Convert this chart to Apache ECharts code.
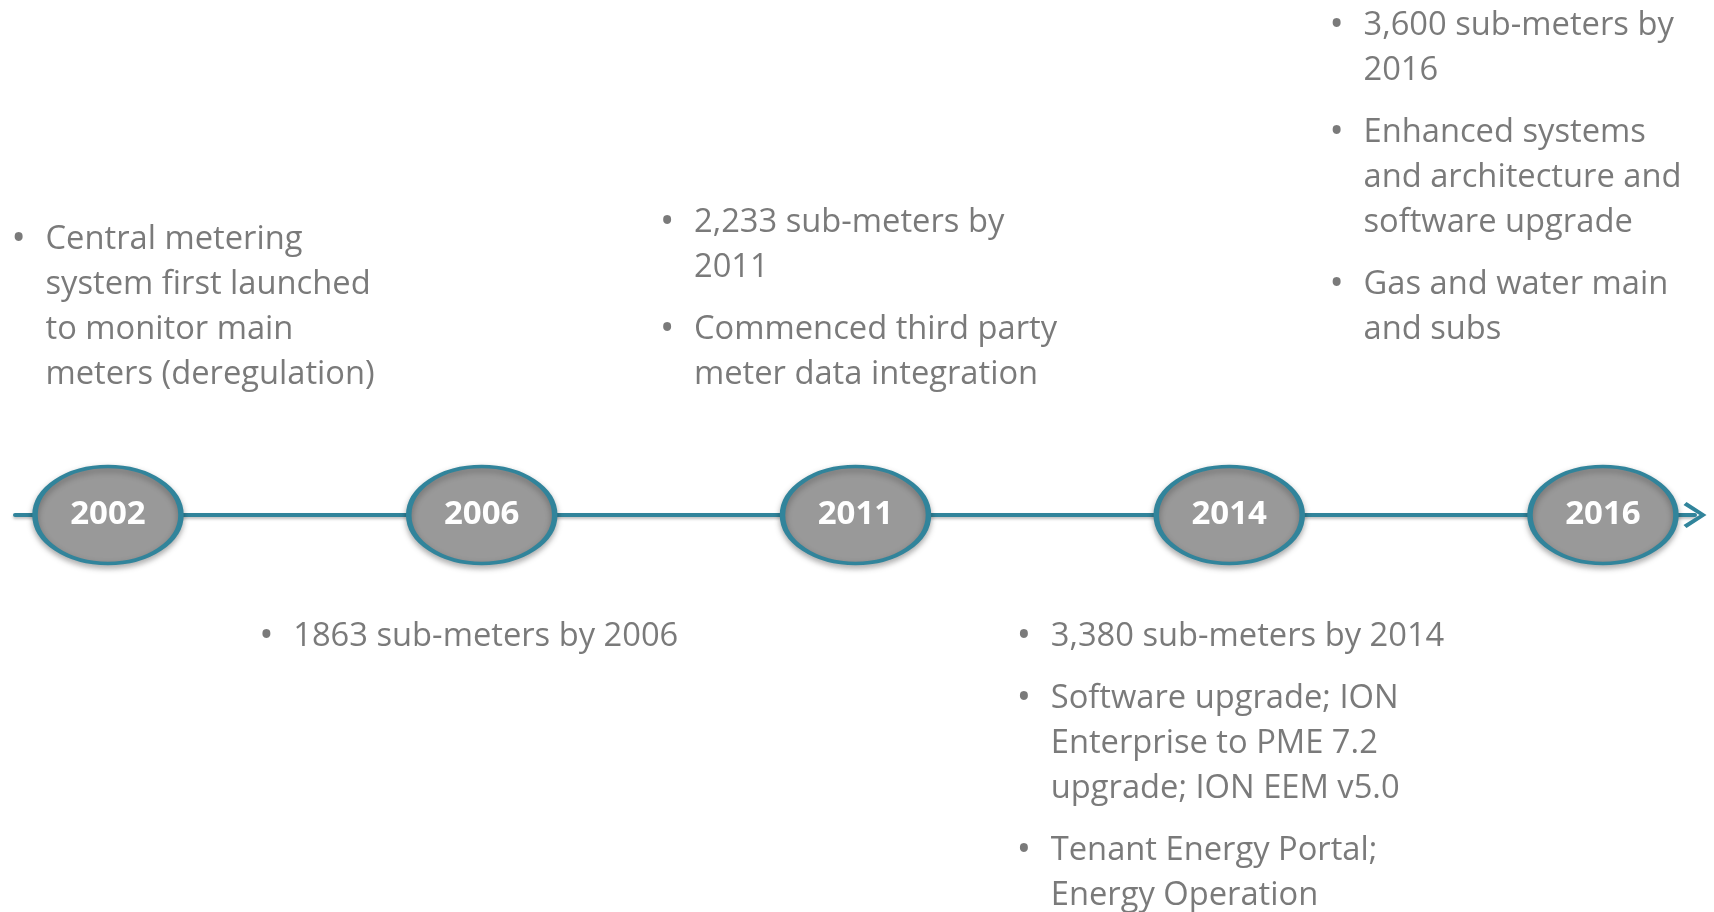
<!DOCTYPE html>
<html style="height: 100%">
<head>
  <meta charset="UTF-8">
  <title>Metering timeline</title>
  <script src="https://cdn.jsdelivr.net/npm/echarts@6/dist/echarts.min.js"></script>
  <style>
    html, body {
      margin: 0;
      height: 100%;
      width: 100%;
      background: #fff;
    }
    #chart {
      width: 1714px;
      height: 912px;
    }
  </style>
</head>
<body>
  <div id="chart"></div>
  <script>
    // timeline data
    const years = ['2002', '2006', '2011', '2014', '2016'];

    // bullet notes per year: each paragraph is a list of pre-wrapped lines
    const notes2002 = [['Central metering', 'system first launched', 'to monitor main', 'meters (deregulation)']];
    const notes2006 = [['1863 sub-meters by 2006']];
    const notes2011 = [['2,233 sub-meters by', '2011'], ['Commenced third party', 'meter data integration']];
    const notes2014 = [['3,380 sub-meters by 2014'], ['Software upgrade; ION', 'Enterprise to PME 7.2', 'upgrade; ION EEM v5.0'], ['Tenant Energy Portal;', 'Energy Operation']];
    const notes2016 = [['3,600 sub-meters by', '2016'], ['Enhanced systems', 'and architecture and', 'software upgrade'], ['Gas and water main', 'and subs']];
    const notes = [notes2002, notes2006, notes2011, notes2014, notes2016];

    // layout: where each note block sits relative to its year marker (px)
    const noteOffsets = [[-96, -297], [-222, 100], [-195, -314], [-212, 100], [-273, -511]];

    const teal = '#31849B';
    const grey = '#595959';
    const font = '"Open Sans", sans-serif';

    function noteText(paras) {
      return paras.map(lines =>
        lines.map((l, j) => (j === 0 ? '{b|•}' : '{i| }') + '{t|' + l + '}').join('\n')
      ).join('\n{gap| }\n');
    }

    const chart = echarts.init(document.getElementById('chart'));
    chart.setOption({
      animation: false,
      grid: { left: 15, right: 19, top: 118, bottom: 0 },
      xAxis: {
        type: 'value',
        min: -0.2488,
        max: 4.2462,
        z: 0,
        axisLine: {
          show: true,
          onZero: true,
          symbol: ['none', 'path://M13,0 L26,20 L23,23 L13,7 L3,23 L0,20 Z'],
          symbolSize: [26, 24],
          lineStyle: {
            color: teal,
            width: 4,
            shadowBlur: 3,
            shadowOffsetY: 2,
            shadowColor: 'rgba(0,0,0,0.25)'
          }
        },
        axisTick: { show: false },
        axisLabel: { show: false },
        splitLine: { show: false }
      },
      yAxis: { type: 'value', min: -1, max: 1, show: false },
      series: [
        {
          name: 'years',
          type: 'scatter',
          symbol: 'circle',
          symbolSize: [146, 97],
          silent: true,
          z: 5,
          itemStyle: {
            color: '#999999',
            opacity: 1,
            borderColor: teal,
            borderWidth: 4.5,
            shadowBlur: 6,
            shadowOffsetY: 3,
            shadowColor: 'rgba(0,0,0,0.3)'
          },
          label: {
            show: true,
            position: 'inside',
            formatter: p => years[p.dataIndex],
            color: '#fff',
            fontFamily: font,
            fontWeight: 'bold',
            fontSize: 33
          },
          data: years.map((y, i) => [i, 0])
        },
        {
          name: 'notes',
          type: 'scatter',
          symbolSize: 1,
          silent: true,
          itemStyle: { color: 'transparent' },
          label: {
            show: true,
            align: 'left',
            verticalAlign: 'top',
            formatter: p => noteText(notes[p.dataIndex]),
            rich: {
              b: { width: 34, fontSize: 38, lineHeight: 45, color: grey, fontFamily: font },
              i: { width: 34, fontSize: 32.7, lineHeight: 45 },
              t: { fontSize: 32.7, lineHeight: 45, color: grey, fontFamily: font },
              gap: { fontSize: 4, lineHeight: 17 }
            }
          },
          data: years.map((y, i) => ({
            value: [i, 0],
            label: { position: noteOffsets[i] }
          }))
        }
      ]
    });
  </script>
</body>
</html>
